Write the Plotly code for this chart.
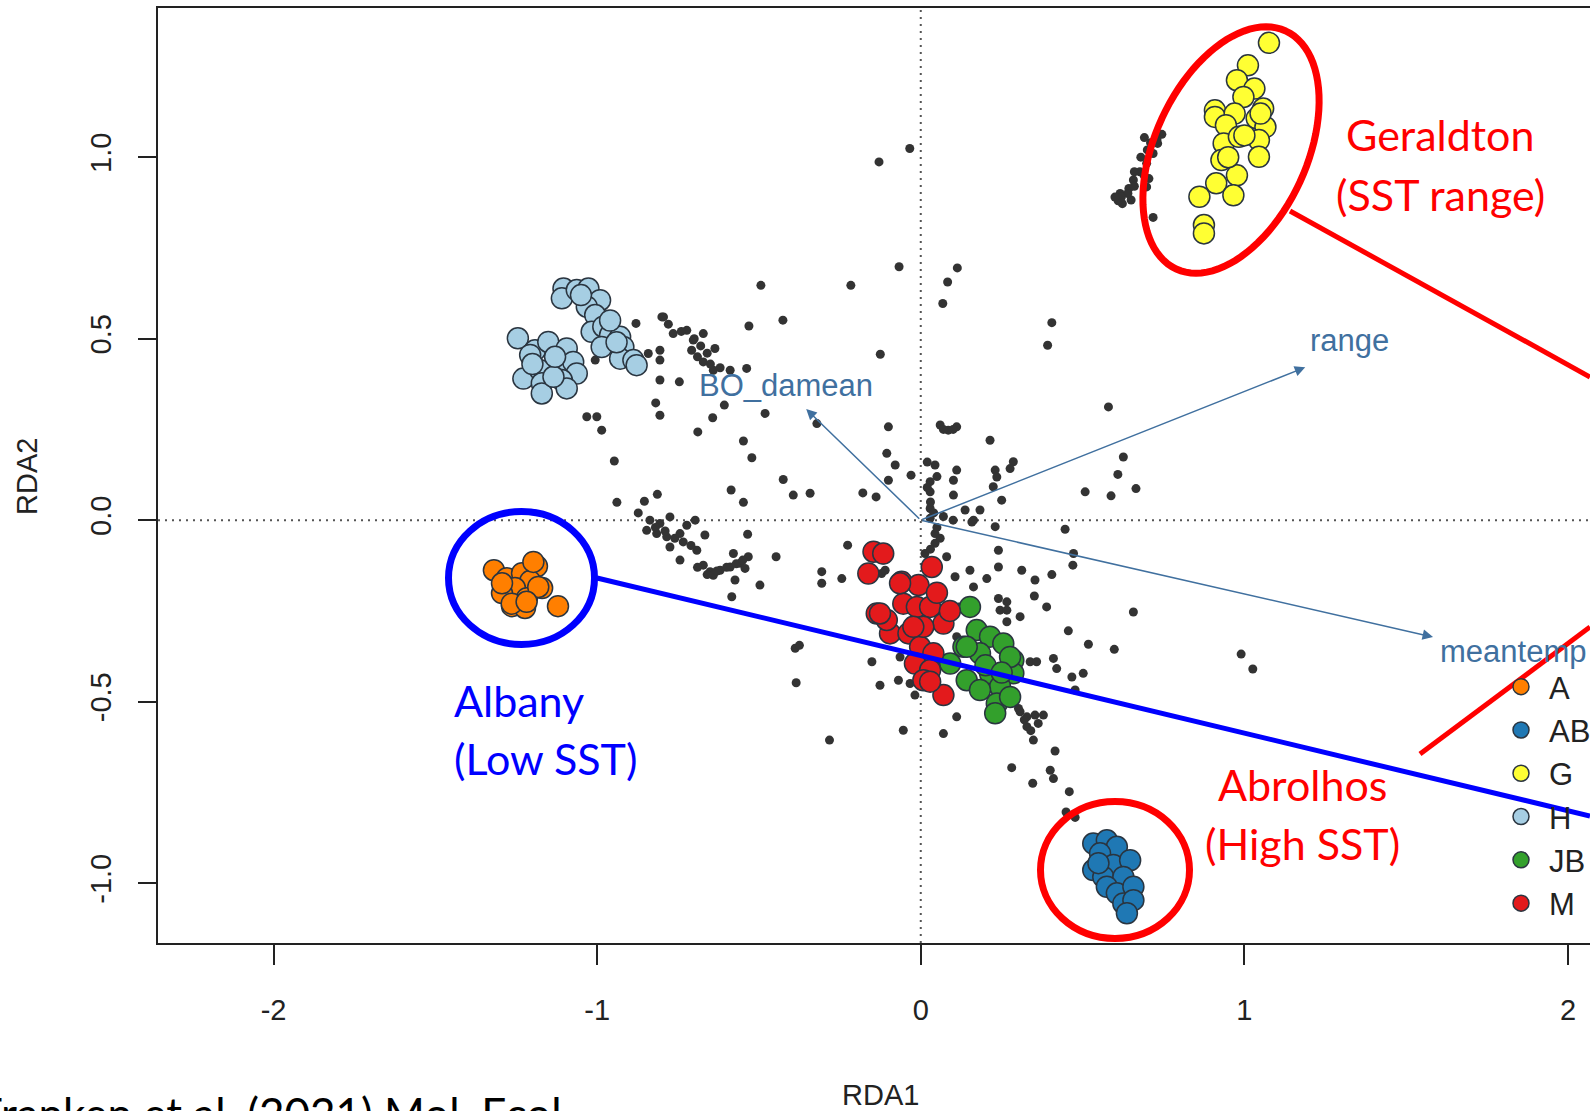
import numpy as np
import plotly.graph_objects as go

# ---------------- data (RDA1, RDA2 scores) ----------------
ind_pts = [
    (-0.129, 0.987), (-0.067, 0.698), (-0.494, 0.647), (-0.216, 0.647), (-0.426, 0.551), (-0.531, 0.535),
    (-0.125, 0.457), (-0.880, 0.542), (-0.795, 0.560), (-0.765, 0.514), (-0.723, 0.523), (-0.703, 0.496),
    (-0.672, 0.514), (-0.636, 0.473), (-0.708, 0.468), (-0.672, 0.436), (-0.641, 0.413), (-0.589, 0.413),
    (-0.538, 0.418), (-0.842, 0.459), (-0.806, 0.468), (-0.806, 0.441), (-1.006, 0.441), (-0.806, 0.386),
    (-0.746, 0.381), (0.083, 0.656), (0.068, 0.597), (-0.819, 0.323), (-0.806, 0.289), (-1.032, 0.285),
    (-1.001, 0.285), (-0.986, 0.248), (-0.689, 0.243), (-0.643, 0.282), (-0.607, 0.317), (-0.481, 0.294),
    (-0.548, 0.218), (-0.522, 0.172), (-0.947, 0.163), (-0.321, 0.266), (-0.100, 0.257), (0.085, 0.248),
    (0.060, 0.262), (0.111, 0.257), (-0.105, 0.184), (-0.079, 0.152), (-0.100, 0.110), (-0.030, 0.124),
    (0.044, 0.152), (0.111, 0.138), (0.029, 0.106), (0.029, 0.078), (0.101, 0.069), (0.029, 0.032),
    (-0.179, 0.075), (-0.138, 0.064), (-0.425, 0.112), (-0.394, 0.069), (-0.342, 0.074), (-0.586, 0.083),
    (-0.548, 0.049), (-0.939, 0.049), (-0.854, 0.052), (-0.814, 0.071), (-0.873, 0.020), (-0.837, 0.000),
    (-0.847, -0.028), (-0.816, -0.037), (-0.806, -0.009), (-0.775, 0.009), (-0.785, -0.046), (-0.775, -0.074),
    (-0.744, -0.037), (-0.723, -0.014), (-0.697, 0.000), (-0.734, -0.060), (-0.692, -0.083), (-0.667, -0.041),
    (-0.744, -0.110), (-0.672, -0.124), (-0.651, -0.142), (-0.620, -0.138), (-0.589, -0.129), (-0.558, -0.119),
    (-0.579, -0.092), (-0.533, -0.101), (-0.543, -0.133), (-0.641, -0.152), (-0.535, -0.039), (-0.447, -0.101),
    (-0.574, -0.165), (-0.497, -0.179), (-0.584, -0.211), (-0.226, -0.069), (-0.306, -0.142), (-0.306, -0.174),
    (-0.244, -0.161), (0.029, 0.005), (0.044, -0.037), (0.044, -0.064), (0.080, -0.101), (0.106, -0.156),
    (0.152, -0.138), (0.137, 0.028), (0.163, 0.000), (-0.116, -0.110), (-0.121, -0.147), (0.580, 0.312),
    (0.214, 0.220), (0.101, 0.110), (0.230, 0.138), (0.235, 0.119), (0.224, 0.092), (0.286, 0.161),
    (0.276, 0.142), (0.250, 0.055), (0.183, 0.028), (0.158, -0.005), (0.230, -0.018), (0.446, -0.025),
    (0.472, -0.092), (0.470, -0.124), (0.508, 0.078), (0.588, 0.067), (0.626, 0.174), (0.609, 0.126),
    (0.665, 0.087), (0.013, -0.092), (-0.110, -0.138), (0.163, -0.184), (0.204, -0.161), (0.240, -0.129),
    (0.240, -0.083), (0.312, -0.138), (0.353, -0.165), (0.405, -0.150), (0.351, -0.209), (0.389, -0.239),
    (0.240, -0.216), (0.266, -0.225), (0.245, -0.248), (0.266, -0.248), (0.266, -0.280), (0.307, -0.266),
    (0.118, -0.239), (0.657, -0.253), (0.456, -0.305), (0.518, -0.342), (0.598, -0.356), (0.338, -0.390),
    (0.358, -0.390), (0.410, -0.381), (0.420, -0.409), (0.467, -0.432), (0.502, -0.422), (0.477, -0.468),
    (0.990, -0.369), (1.026, -0.410), (0.111, -0.321), (-0.064, -0.377), (-0.126, -0.455), (-0.069, -0.441),
    (-0.033, -0.450), (-0.018, -0.482), (0.111, -0.542), (-0.054, -0.579), (0.070, -0.588), (0.307, -0.528),
    (0.328, -0.542), (0.353, -0.537), (0.379, -0.537), (0.328, -0.569), (0.363, -0.560), (0.348, -0.606),
    (0.415, -0.636), (0.281, -0.682), (0.400, -0.689), (0.410, -0.712), (0.346, -0.725), (0.459, -0.748),
    (0.302, -0.519), (0.449, -0.804), (0.477, -0.819), (-0.034, 1.024), (0.691, 1.054), (0.745, 1.063),
    (0.732, 1.038), (0.718, 1.010), (0.698, 0.983), (0.677, 0.960), (0.657, 0.937), (0.643, 0.914),
    (0.616, 0.900), (0.623, 0.872), (0.705, 0.941), (0.698, 0.918), (0.650, 0.882), (0.718, 0.834),
    (0.610, 0.880), (0.660, 0.960), (0.700, 1.020), (0.113, 0.695), (0.405, 0.544), (0.392, 0.482),
    (-0.282, -0.606), (-0.385, -0.448), (-0.388, -0.353), (-0.375, -0.345), (-0.151, -0.390),
    (0.680, 1.000), (0.710, 1.040), (0.660, 0.920), (0.640, 0.900), (0.620, 0.890), (0.690, 0.950),
    (0.730, 1.050), (0.600, 0.890), (-0.780, 0.540), (-0.740, 0.520), (-0.700, 0.500), (-0.680, 0.480),
    (-0.660, 0.460), (-0.690, 0.450), (-0.650, 0.430), (-0.620, 0.420), (-0.800, 0.560), (-0.820, -0.020),
    (-0.790, -0.030), (-0.760, -0.050), (-0.710, -0.070), (-0.630, -0.140), (-0.600, -0.130), (-0.570, -0.120),
    (-0.690, -0.130), (-0.660, -0.150), (-0.550, -0.110), (0.020, 0.090), (0.030, 0.050), (0.040, 0.020),
    (0.050, -0.020), (0.060, -0.050), (0.030, -0.080), (0.070, 0.010), (0.100, 0.000), (0.050, 0.120),
    (0.020, 0.160), (0.070, 0.250), (0.100, 0.250), (0.320, -0.550), (0.340, -0.580),
]
ind_x = [p[0] for p in ind_pts]
ind_y = [p[1] for p in ind_pts]

A_x = [-1.319, -1.279, -1.232, -1.186, -1.207, -1.254, -1.294, -1.217, -1.170, -1.263, -1.223, -1.294,
       -1.121, -1.197, -1.182, -1.264, -1.218]
A_y = [-0.138, -0.160, -0.146, -0.127, -0.168, -0.187, -0.201, -0.215, -0.187, -0.237, -0.242, -0.174,
       -0.237, -0.115, -0.184, -0.230, -0.225]

AB_x = [0.533, 0.575, 0.606, 0.554, 0.595, 0.533, 0.564, 0.647, 0.626, 0.575, 0.606, 0.657, 0.626, 0.657,
        0.637, 0.549]
AB_y = [-0.891, -0.882, -0.900, -0.918, -0.950, -0.964, -0.983, -0.937, -0.983, -1.010, -1.028, -1.010,
        -1.056, -1.047, -1.083, -0.945]

G_x = [1.076, 1.011, 0.977, 1.031, 0.997, 0.909, 0.909, 0.970, 1.038, 1.058, 1.065, 0.943, 0.936, 0.983,
       1.045, 1.045, 0.929, 0.977, 0.913, 0.861, 0.966, 0.875, 0.875, 1.050, 1.000, 0.950]
G_y = [1.315, 1.253, 1.212, 1.189, 1.166, 1.129, 1.111, 1.120, 1.107, 1.134, 1.083, 1.088, 1.038, 1.056,
       1.047, 1.001, 0.992, 0.950, 0.928, 0.891, 0.895, 0.813, 0.790, 1.120, 1.060, 1.000]

H_x = [-1.104, -1.109, -1.063, -1.027, -0.991, -1.032, -1.006, -1.017, -0.981, -0.960, -0.986, -0.929,
       -0.919, -0.929, -0.888, -0.878, -1.050, -0.960, -0.940,
       -1.245, -1.192, -1.151, -1.094, -1.207, -1.125, -1.074, -1.063, -1.228, -1.176, -1.171, -1.171,
       -1.109, -1.094, -1.135, -1.130, -1.200]
H_y = [0.638, 0.611, 0.634, 0.638, 0.606, 0.588, 0.565, 0.519, 0.533, 0.510, 0.477, 0.505,
       0.477, 0.445, 0.441, 0.427, 0.620, 0.550, 0.490,
       0.501, 0.468, 0.491, 0.473, 0.455, 0.422, 0.436, 0.404, 0.390, 0.413, 0.377, 0.349,
       0.386, 0.363, 0.395, 0.450, 0.430]

JB_x = [0.152, 0.173, 0.132, 0.214, 0.255, 0.183, 0.286, 0.091, 0.142, 0.214, 0.286, 0.245, 0.183, 0.235,
        0.276, 0.230, 0.276, 0.142, 0.200, 0.250]
JB_y = [-0.239, -0.303, -0.349, -0.321, -0.340, -0.367, -0.386, -0.395, -0.441, -0.422, -0.422, -0.459,
        -0.468, -0.505, -0.487, -0.532, -0.377, -0.349, -0.400, -0.420]

M_x = [-0.146, -0.162, -0.059, -0.007, 0.034, -0.054, -0.136, -0.095, -0.012, 0.029, 0.070, -0.038, -0.002,
       0.039, -0.018, 0.029, 0.008, 0.070, -0.105, 0.008, -0.064, -0.023, 0.029, -0.126, -0.116, 0.090, 0.050]
M_y = [-0.087, -0.147, -0.170, -0.179, -0.129, -0.230, -0.257, -0.312, -0.239, -0.239, -0.285, -0.312, -0.349,
       -0.367, -0.395, -0.413, -0.441, -0.482, -0.275, -0.294, -0.174, -0.294, -0.445, -0.257, -0.092, -0.250,
       -0.200]

env_names = ["BO_damean", "range", "meantemp"]
env_x = [-0.354, 1.188, 1.583]
env_y = [0.306, 0.421, -0.322]

x_ticks = [-2, -1, 0, 1, 2]
x_ticklabels = ["-2", "-1", "0", "1", "2"]
y_ticks = [-1.0, -0.5, 0.0, 0.5, 1.0]
y_ticklabels = ["-1.0", "-0.5", "0.0", "0.5", "1.0"]

# ---------------- styling / layout helpers ----------------
W, H = 1590, 1111
L, T, R, B = 158, 8, 0, 168
PW, PH = W - L - R, H - T - B
BOT = H - B


def PX(p):
    return (p - L) / PW


def PY(p):
    return (BOT - p) / PH


AXFONT = "Liberation Sans, Arial, sans-serif"
CALI = "Lato, Carlito, sans-serif"
ARROW_COL = "#40709f"
RED = "#ff0000"
BLUE = "#0000ff"

groups = [
    ("A", A_x, A_y, "#ff7f00"),
    ("AB", AB_x, AB_y, "#1f78b4"),
    ("G", G_x, G_y, "#ffff33"),
    ("H", H_x, H_y, "#a6cee3"),
    ("JB", JB_x, JB_y, "#33a02c"),
    ("M", M_x, M_y, "#e31a1c"),
]

fig = go.Figure()
fig.add_trace(go.Scatter(x=ind_x, y=ind_y, mode="markers", showlegend=False, hoverinfo="skip",
                         marker=dict(size=9, color="#333333", line=dict(width=0))))
for name, gx, gy, col in groups:
    fig.add_trace(go.Scatter(x=gx, y=gy, mode="markers", name=name,
                             marker=dict(size=21, color=col, line=dict(width=1.5, color="#2a3540"))))

annotations = []
# biplot arrows
for nm, ex, ey in zip(env_names, env_x, env_y):
    annotations.append(dict(x=ex, y=ey, ax=0, ay=0, xref="x", yref="y", axref="x", ayref="y",
                            text="", showarrow=True, arrowhead=2, arrowsize=1.4, arrowwidth=1.5,
                            arrowcolor=ARROW_COL, standoff=0, startstandoff=0))
label_pos = {"BO_damean": (786, 385), "range": (1349, 340), "meantemp": (1513, 651)}
for nm in env_names:
    lx, ly = label_pos[nm]
    annotations.append(dict(x=PX(lx), y=PY(ly), xref="paper", yref="paper", text=nm, showarrow=False,
                            xanchor="center", yanchor="middle",
                            font=dict(family=AXFONT, size=31, color=ARROW_COL)))

# axis titles
annotations.append(dict(x=PX(880), y=PY(1095), xref="paper", yref="paper", text="RDA1", showarrow=False,
                        font=dict(family=AXFONT, size=29, color="#222222"), xanchor="center", yanchor="middle"))
annotations.append(dict(x=PX(27), y=PY(477), xref="paper", yref="paper", text="RDA2", showarrow=False,
                        textangle=-90, font=dict(family=AXFONT, size=29, color="#222222"),
                        xanchor="center", yanchor="middle"))


def txt(s, x, y, col, anchor="center", size=43):
    annotations.append(dict(x=PX(x), y=PY(y), xref="paper", yref="paper", text=s, showarrow=False,
                            xanchor=anchor, yanchor="middle", font=dict(family=CALI, size=size, color=col)))


txt("Geraldton", 1440, 134, RED)
txt("(SST range)", 1440, 195, RED)
txt("Albany", 452, 700, BLUE, "left")
txt("(Low SST)", 452, 758, BLUE, "left")
txt("Abrolhos", 1302, 784, RED)
txt("(High SST)", 1302, 843, RED)

annotations.append(dict(x=PX(-24), y=PY(1085), xref="paper", yref="paper",
                        text="Franken et al. (2021) Mol. Ecol.", showarrow=False, xanchor="left",
                        yanchor="top", font=dict(family=CALI, size=44, color="#000000")))

shapes = []
# dotted zero lines
shapes.append(dict(type="line", xref="x", yref="paper", x0=0, x1=0, y0=0, y1=1, layer="below",
                   line=dict(color="#555555", width=2, dash="2px,5px")))
shapes.append(dict(type="line", xref="paper", yref="y", x0=0, x1=1, y0=0, y1=0, layer="below",
                   line=dict(color="#555555", width=2, dash="2px,5px")))

# tilted red ellipse around Geraldton
cx, cy, ea, eb, th = 1231, 150, 131, 76, np.radians(24.7)
t = np.linspace(0, 2 * np.pi, 97)
ux, uy = np.sin(th), -np.cos(th)
vx, vy = np.cos(th), np.sin(th)
ex_ = cx + ea * np.cos(t) * ux + eb * np.sin(t) * vx
ey_ = cy + ea * np.cos(t) * uy + eb * np.sin(t) * vy
path = "M " + " L ".join(f"{PX(a):.5f},{PY(b):.5f}" for a, b in zip(ex_, ey_)) + " Z"
shapes.append(dict(type="path", xref="paper", yref="paper", path=path, line=dict(color=RED, width=7)))
shapes.append(dict(type="line", xref="paper", yref="paper", x0=PX(1290), y0=PY(211), x1=PX(1590), y1=PY(377),
                   line=dict(color=RED, width=5)))

# blue circle around Albany + line
shapes.append(dict(type="circle", xref="paper", yref="paper", x0=PX(521.5 - 73), x1=PX(521.5 + 73),
                   y0=PY(578 + 66.5), y1=PY(578 - 66.5), line=dict(color=BLUE, width=7)))
shapes.append(dict(type="line", xref="paper", yref="paper", x0=PX(597), y0=PY(578), x1=PX(1590), y1=PY(816),
                   line=dict(color=BLUE, width=5)))

# red circle around Abrolhos + line
shapes.append(dict(type="circle", xref="paper", yref="paper", x0=PX(1115 - 74.5), x1=PX(1115 + 74.5),
                   y0=PY(870 + 68.5), y1=PY(870 - 68.5), line=dict(color=RED, width=7)))
shapes.append(dict(type="line", xref="paper", yref="paper", x0=PX(1420), y0=PY(754), x1=PX(1590), y1=PY(627),
                   line=dict(color=RED, width=5)))

fig.update_layout(
    width=W, height=H,
    margin=dict(l=L, r=R, t=T, b=B, pad=0, autoexpand=False),
    paper_bgcolor="white", plot_bgcolor="white",
    showlegend=True,
    legend=dict(x=PX(1493), y=PY(660), xanchor="left", yanchor="top", bgcolor="rgba(0,0,0,0)",
                borderwidth=0, tracegroupgap=0, itemsizing="trace", itemwidth=46,
                font=dict(family=AXFONT, size=31, color="#222222")),
    annotations=annotations,
    shapes=shapes,
    xaxis=dict(range=[-2.357, 2.068], showgrid=False, zeroline=False, showline=True, mirror=True,
               linecolor="#222222", linewidth=2, ticks="outside", ticklen=20, tickwidth=2, tickcolor="#222222",
               tickvals=x_ticks, ticktext=x_ticklabels, ticklabelstandoff=20, automargin=False,
               tickfont=dict(family=AXFONT, size=29, color="#222222")),
    yaxis=dict(range=[-1.165, 1.411], showgrid=False, zeroline=False, showline=True, mirror=False,
               linecolor="#222222", linewidth=2, ticks="outside", ticklen=18, tickwidth=2, tickcolor="#222222",
               tickvals=y_ticks, ticktext=y_ticklabels, tickangle=-90, ticklabelstandoff=15, automargin=False,
               tickfont=dict(family=AXFONT, size=29, color="#222222")),
)

fig.write_html("out.html", config={"displayModeBar": False})
